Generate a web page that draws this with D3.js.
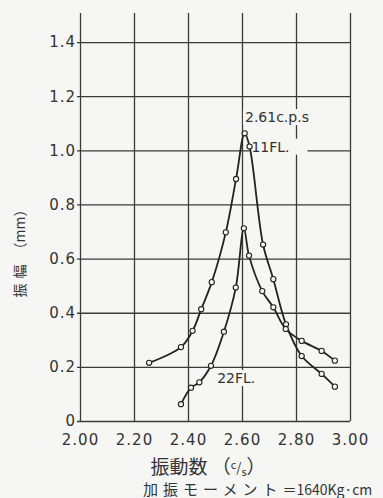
<!DOCTYPE html>
<html>
<head>
<meta charset="utf-8">
<script src="https://cdn.jsdelivr.net/npm/d3@7"></script>
<style>
  body { margin: 0; background: #f6f6f4; }
  svg { display: block; }
  .tick text { font-family: "DejaVu Sans", sans-serif; letter-spacing: 1px; fill: #333; }
</style>
</head>
<body>
<div id="chart-area"></div>
<script>
// frequency (c/s) vs amplitude (mm)
var xTicks = [2.00, 2.20, 2.40, 2.60, 2.80, 3.00];
var xTickLabels = ["2.00", "2.20", "2.40", "2.60", "2.80", "3.00"];
var yTicks = [0, 0.2, 0.4, 0.6, 0.8, 1.0, 1.2, 1.4];
var yTickLabels = ["0", "0.2", "0.4", "0.6", "0.8", "1.0", "1.2", "1.4"];

// 11FL (tall peak)
var freq11 = [2.256, 2.374, 2.417, 2.449, 2.488, 2.540, 2.578, 2.610, 2.628, 2.678, 2.716, 2.763, 2.821, 2.895, 2.944];
var amp11  = [0.215, 0.273, 0.333, 0.413, 0.513, 0.697, 0.894, 1.063, 1.014, 0.652, 0.524, 0.357, 0.240, 0.174, 0.127];

// 22FL (lower peak)
var freq22 = [2.374, 2.411, 2.442, 2.485, 2.533, 2.577, 2.607, 2.626, 2.675, 2.716, 2.762, 2.821, 2.895, 2.944];
var amp22  = [0.062, 0.123, 0.143, 0.204, 0.330, 0.493, 0.712, 0.611, 0.480, 0.420, 0.340, 0.296, 0.259, 0.223];

var svgWidth = 383, svgHeight = 498;
var margin = { top: 15, right: 33, bottom: 77, left: 80 };
var width = svgWidth - margin.left - margin.right;
var height = svgHeight - margin.top - margin.bottom;

var svg = d3.select("#chart-area").append("svg")
  .attr("width", svgWidth)
  .attr("height", svgHeight);

var g = svg.append("g")
  .attr("transform", "translate(" + margin.left + "," + margin.top + ")");

var x = d3.scaleLinear().domain([2.0, 3.0]).range([0, width]);
var y = d3.scaleLinear().domain([0, 1.5]).range([height, 0]);

var gridColor = "#3a3a3a";
var paper = "#f6f6f4";

// horizontal grid + y labels
g.append("g")
  .call(d3.axisLeft(y)
    .tickValues(yTicks)
    .tickFormat((d, i) => yTickLabels[i])
    .tickSizeInner(-width)
    .tickSizeOuter(0)
    .tickPadding(5))
  .call(a => a.select(".domain").remove())
  .call(a => a.selectAll(".tick line").attr("x1", -3).attr("stroke", gridColor).attr("stroke-width", 1.3))
  .call(a => a.selectAll(".tick text").attr("font-size", 15).attr("dx", 1));

// vertical grid + x labels
g.append("g")
  .attr("transform", "translate(0," + height + ")")
  .call(d3.axisBottom(x)
    .tickValues(xTicks)
    .tickFormat((d, i) => xTickLabels[i])
    .tickSizeInner(-height - 2)
    .tickSizeOuter(0)
    .tickPadding(10))
  .call(a => a.select(".domain").remove())
  .call(a => a.selectAll(".tick line").attr("stroke", gridColor).attr("stroke-width", 1.3))
  .call(a => a.selectAll(".tick text").attr("font-size", 15).attr("dy", "0.9em"));

// curve labels with paper-coloured box hiding the grid
function label(txt, px, py, w) {
  g.append("rect")
    .attr("x", px - 2).attr("y", py - 13)
    .attr("width", w).attr("height", 16)
    .attr("fill", paper);
  g.append("text")
    .attr("x", px).attr("y", py)
    .attr("font-family", "DejaVu Sans, sans-serif")
    .attr("font-size", 14)
    .attr("fill", "#333")
    .text(txt);
}
label("2.61c.p.s", x(2.611), y(1.06) - 12, 76);
label("11FL.", x(2.635), y(0.995), 58);
label("22FL.", x(2.508), y(0.14), 52);

var line = d3.line()
  .x(d => x(d[0]))
  .y(d => y(d[1]))
  .curve(d3.curveCatmullRom.alpha(0.5));

var series = [
  d3.zip(freq11, amp11),
  d3.zip(freq22, amp22)
];

series.forEach(function(pts) {
  g.append("path")
    .datum(pts)
    .attr("d", line)
    .attr("fill", "none")
    .attr("stroke", "#222")
    .attr("stroke-width", 1.8);

  g.selectAll(null)
    .data(pts)
    .enter()
    .append("circle")
    .attr("cx", d => x(d[0]))
    .attr("cy", d => y(d[1]))
    .attr("r", 2.6)
    .attr("fill", paper)
    .attr("stroke", "#222")
    .attr("stroke-width", 1.1);
});

// axis titles
var yt = svg.append("text")
  .attr("transform", "translate(25,250) rotate(-90)")
  .attr("text-anchor", "middle")
  .attr("font-family", "Noto Sans CJK JP, sans-serif")
  .attr("font-size", 14)
  .attr("fill", "#333");
yt.append("tspan").attr("letter-spacing", 5).text("振幅");
yt.append("tspan").text(" （mm）");

var xt = svg.append("text")
  .attr("x", 208).attr("y", 474)
  .attr("text-anchor", "middle")
  .attr("font-family", "Noto Sans CJK JP, sans-serif")
  .attr("font-size", 19)
  .attr("fill", "#333");
xt.append("tspan").text("振動数 （");
xt.append("tspan").attr("font-size", 11).attr("dy", -5).text("c");
xt.append("tspan").attr("font-size", 13).attr("dy", 3).text("/");
xt.append("tspan").attr("font-size", 11).attr("dy", 4).text("s");
xt.append("tspan").attr("dy", -2).text("）");

var note = svg.append("text")
  .attr("x", 143).attr("y", 495)
  .attr("font-family", "Noto Sans CJK JP, sans-serif")
  .attr("font-size", 15)
  .attr("fill", "#333");
note.append("tspan").attr("letter-spacing", 5).text("加振モーメント");
note.append("tspan").attr("font-size", 14).text("＝1640Kg·cm");
</script>
</body>
</html>
